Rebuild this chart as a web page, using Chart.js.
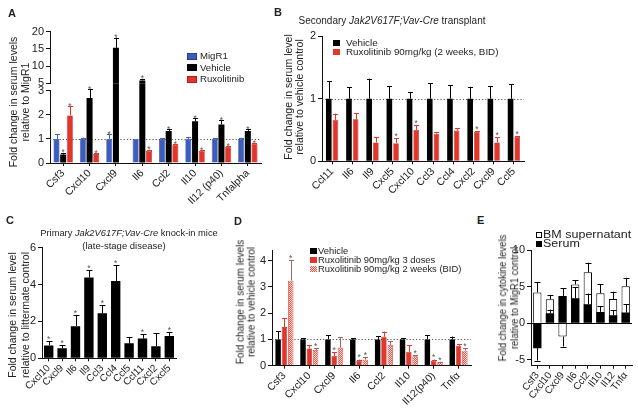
<!DOCTYPE html>
<html><head><meta charset="utf-8">
<script src="https://cdn.jsdelivr.net/npm/chart.js@4.4.1/dist/chart.umd.min.js"></script>
<style>
html,body{margin:0;padding:0;background:#fff;}
#fig{position:relative;width:638px;height:411px;overflow:hidden;font-family:'Liberation Sans',Arial,Helvetica,sans-serif;color:#222;}
canvas.cv{position:absolute;}
.t{position:absolute;white-space:nowrap;line-height:1;}
.bx{position:absolute;box-sizing:border-box;}
</style></head><body><div id="fig"></div>
<script>
// ---------------- DATA ----------------
// Panel A
const A_LABELS = ['Csf3','Cxcl10','Cxcl9','Il6','Ccl2','Il10','Il12 (p40)','Tnfalpha'];
const A_SERIES = ['MigR1','Vehicle','Ruxolitinib'];
const A_MIGR1 = [1,1,1,1,1,1,1,1];
const A_MIGR1_ERR = [0.2,0.05,0.2,0,0.03,0.07,0.03,0.05];
const A_MIGR1_STAR = [0,0,1,0,0,0,0,0];
const A_VEH = [0.35,2.7,15.3,5.8,1.33,1.73,1.6,1.33];
const A_VEH_ERR = [0.07,0.35,3.0,0.5,0.07,0.12,0.18,0.07];
const A_VEH_STAR = [1,1,1,1,1,1,1,1];
const A_RUX = [1.97,0.37,0.02,0.5,0.75,0.5,0.68,0.79];
const A_RUX_ERR = [0.38,0.03,0,0.05,0.03,0.02,0.02,0.03];
const A_RUX_STAR = [1,1,0,1,1,1,1,1];
const A_UPPER_TICKS = [5,10,15,20];
const A_LOWER_TICKS = [0,1,2,3];
// Panel B
const B_LABELS = ['Ccl11','Il6','Il9','Cxcl5','Cxcl10','Ccl3','Ccl4','Cxcl2','Cxcl9','Ccl5'];
const B_SERIES = ['Vehicle','Ruxolitinib 90mg/kg (2 weeks, BID)'];
const B_VEH = [1,1,1,1,1,1,1,1,1,1];
const B_VEH_ERR = [0.28,0.18,0.32,0.2,0.1,0.25,0.21,0.19,0.2,0.23];
const B_RUX = [0.66,0.67,0.30,0.29,0.50,0.44,0.49,0.47,0.30,0.39];
const B_RUX_ERR = [0.10,0.10,0.08,0.08,0.08,0.03,0.04,0.01,0.08,0.01];
const B_RUX_STAR = [0,0,0,1,1,0,0,1,1,1];
const B_TICKS = [0,1,2];
// Panel C
const C_LABELS = ['Cxcl10','Cxcl9','Il6','Il9','Ccl3','Ccl4','Ccl5','Ccl11','Cxcl2','Cxcl5'];
const C_VALUES = [0.70,0.54,1.74,4.39,2.44,4.20,0.81,1.07,0.65,1.21];
const C_ERR = [0.24,0.18,0.61,0.38,0.44,0.86,0.33,0.23,0.72,0.22];
const C_STAR = [1,1,1,1,1,1,0,1,0,1];
const C_TICKS = [0,2,4,6];
// Panel D
const D_LABELS = ['Csf3','Cxcl10','Cxcl9','Il6','Ccl2','Il10','Il12(p40)','Tnfα'];
const D_SERIES = ['Vehicle','Ruxolitinib 90mg/kg 3 doses','Ruxolitinib 90mg/kg 2 weeks (BID)'];
const D_VEH = [1,1,1,1,1,1,1,1];
const D_VEH_ERR = [0.32,0.04,0.17,0.04,0.13,0.04,0.17,0.11];
const D_RUX3 = [1.47,0.66,0.37,0.18,1.10,0.53,0.18,0.76];
const D_RUX3_ERR = [0.33,0.13,0.14,0.05,0.2,0.24,0.05,0.06];
const D_RUX3_STAR = [0,0,1,1,0,0,1,0];
const D_RUX2W = [3.24,0.60,0.69,0.23,0.79,0.36,0.13,0.57];
const D_RUX2W_ERR = [0.79,0.06,0.39,0.11,0.15,0.05,0.02,0.09];
const D_RUX2W_STAR = [1,1,0,1,0,1,1,1];
const D_TICKS = [0,1,2,3,4];
// Panel E
const E_LABELS = ['Csf3','Cxcl10','Cxcl9','Il6','Ccl2','Il10','Il12','Tnfα'];
const E_SERIES = ['BM supernatant','Serum'];
const E_BM = [4.2,3.27,-1.82,5.3,6.95,4.1,3.3,5.05];
const E_BM_ERR = [1.4,0.6,1.36,0.6,1.32,1.2,1.0,1.15];
const E_SERUM = [-3.4,1.36,3.73,3.4,2.6,1.55,1.1,1.45];
const E_SERUM_ERR = [1.7,0.5,1.07,1.5,1.45,0.75,0.7,1.15];
const E_TICKS = [-5,0,5,10];

// ---------------- STYLE ----------------
const BLUE = '#3d5cc0', RED = '#e5352b', BLACK = '#000000', STAR = '#555555';
const FONT = "'Liberation Sans', Arial, Helvetica, sans-serif";
Chart.defaults.font.family = FONT;
Chart.defaults.color = '#222';
const fig = document.getElementById('fig');

function makePattern() {
  const p = document.createElement('canvas'); p.width = 2; p.height = 2;
  const g = p.getContext('2d');
  g.fillStyle = '#fde2de'; g.fillRect(0,0,2,2);
  g.fillStyle = '#ee5247'; g.fillRect(0,0,1,1); g.fillRect(1,1,1,1);
  return g.createPattern(p, 'repeat');
}

const decor = {
  id: 'decor',
  beforeDatasetsDraw(chart, args, o) {
    if (o.ref === undefined || o.ref === null) return;
    const {ctx, chartArea: a} = chart;
    const y = Math.round(chart.scales.y.getPixelForValue(o.ref)) + 0.5;
    ctx.save(); ctx.strokeStyle = '#555'; ctx.lineWidth = 1; ctx.setLineDash([1.2, 2]);
    ctx.beginPath(); ctx.moveTo(a.left, y); ctx.lineTo(a.right, y); ctx.stroke(); ctx.restore();
  },
  afterDatasetsDraw(chart, args, o) {
    const {ctx, chartArea: a} = chart; const ys = chart.scales.y;
    const ct = o.clipTop || 0, cb = o.clipBottom || 0;
    ctx.save();
    ctx.beginPath(); ctx.rect(a.left - 5, a.top - ct, a.right - a.left + 10, a.bottom - a.top + ct + cb); ctx.clip();
    chart.data.datasets.forEach((ds, i) => {
      const meta = chart.getDatasetMeta(i);
      meta.data.forEach((bar, j) => {
        const v = ds.data[j]; const e = ds.errors ? ds.errors[j] : 0;
        const s = v < 0 ? -1 : 1;
        const yv = ys.getPixelForValue(v), ye = ys.getPixelForValue(v + s * e);
        const x = Math.round(bar.x) + 0.5, cw = o.cap || 2.5;
        ctx.strokeStyle = ds.errColor || '#000'; ctx.lineWidth = 1;
        if (e > 0) {
          ctx.beginPath(); ctx.moveTo(x, yv); ctx.lineTo(x, ye);
          const yc = Math.round(ye) + 0.5;
          ctx.moveTo(x - cw, yc); ctx.lineTo(x + cw, yc); ctx.stroke();
        }
        if (ds.stars && ds.stars[j]) {
          ctx.fillStyle = STAR; ctx.font = (o.starSize || 8.5) + 'px ' + FONT;
          ctx.textAlign = 'center'; ctx.textBaseline = 'alphabetic';
          ctx.fillText('*', bar.x, ye + (o.starOff === undefined ? 0.8 : o.starOff));
        }
      });
    });
    if (o.zero) {
      const y0 = Math.round(ys.getPixelForValue(0)) + 0.5;
      ctx.strokeStyle = '#000'; ctx.lineWidth = 1;
      ctx.beginPath(); ctx.moveTo(a.left, y0); ctx.lineTo(a.right, y0); ctx.stroke();
    }
    ctx.restore();
  }
};
Chart.register(decor);

function baseOptions(yMin, yMax, ticks, xFont, yFont, rot, decorOpts) {
  return {
    responsive: false, animation: false, devicePixelRatio: 1,
    plugins: { legend: { display: false }, tooltip: { enabled: false }, title: { display: false }, decor: decorOpts || {} },
    scales: {
      x: {
        type: 'category', offset: true,
        grid: { display: true, drawOnChartArea: false, offset: false, tickLength: 3, color: '#111' },
        border: { display: true, color: '#111', width: 1 },
        ticks: { autoSkip: false, minRotation: rot, maxRotation: rot, padding: 1, color: '#222', font: { size: xFont } }
      },
      y: {
        min: yMin, max: yMax,
        afterBuildTicks: s => { s.ticks = ticks.map(v => ({ value: v })); },
        grid: { display: true, drawOnChartArea: false, tickLength: 4, color: '#111' },
        border: { display: true, color: '#111', width: 1 },
        ticks: { padding: 2, color: '#222', font: { size: yFont } }
      }
    }
  };
}

function makeChart(box, area, cfg) {
  const c = document.createElement('canvas');
  c.width = box.w; c.height = box.h; c.className = 'cv';
  c.style.left = box.x + 'px'; c.style.top = box.y + 'px';
  c.style.width = box.w + 'px'; c.style.height = box.h + 'px';
  fig.appendChild(c);
  const o = cfg.options;
  o.layout = { padding: { left: 0, top: area.t - box.y, right: box.x + box.w - area.r, bottom: 0 } };
  o.scales.y.afterFit = s => { s.width = area.l - box.x; };
  if (o.scales.x.display === false) o.layout.padding.bottom = box.y + box.h - area.b;
  else o.scales.x.afterFit = s => { s.height = box.y + box.h - area.b; };
  return new Chart(c, cfg);
}

// ---------------- PANEL A (broken axis: upper + lower) ----------------
function aDatasets(clip) {
  return [
    { label: A_SERIES[0], data: A_MIGR1, errors: A_MIGR1_ERR, stars: A_MIGR1_STAR, backgroundColor: BLUE, borderColor: '#2a3f8a', borderWidth: 0.6, errColor: BLUE, clip: clip, categoryPercentage: 0.76, barPercentage: 0.9 },
    { label: A_SERIES[1], data: A_VEH, errors: A_VEH_ERR, stars: A_VEH_STAR, backgroundColor: BLACK, errColor: BLACK, clip: clip, categoryPercentage: 0.76, barPercentage: 0.9 },
    { label: A_SERIES[2], data: A_RUX, errors: A_RUX_ERR, stars: A_RUX_STAR, backgroundColor: RED, borderColor: '#a8221a', borderWidth: 0.6, errColor: RED, clip: clip, categoryPercentage: 0.76, barPercentage: 0.9 }
  ];
}
{
  const o = baseOptions(5, 20, A_UPPER_TICKS, 10.5, 11, 45, { clipTop: 4, starOff: 2.5 });
  o.scales.x.display = false;
  makeChart({ x: 0, y: 18, w: 275, h: 76 }, { l: 50, t: 31.7, r: 261, b: 83.3 },
    { type: 'bar', data: { labels: A_LABELS, datasets: aDatasets(0) }, options: o });
}
{
  const o = baseOptions(0, 3, A_LOWER_TICKS, 10.5, 11, 45, { ref: 1, clipTop: 7.4, starOff: 2.5 });
  makeChart({ x: 0, y: 78, w: 275, h: 130 }, { l: 50, t: 90.7, r: 261, b: 163 },
    { type: 'bar', data: { labels: A_LABELS, datasets: aDatasets({ left: 0, top: 7.4, right: 0, bottom: 0 }) }, options: o });
}

// ---------------- PANEL B ----------------
{
  const o = baseOptions(0, 2, B_TICKS, 10.5, 11, 45, { ref: 1 });
  makeChart({ x: 300, y: 25, w: 338, h: 175 }, { l: 322, t: 36, r: 524, b: 161.3 }, {
    type: 'bar',
    data: { labels: B_LABELS, datasets: [
      { label: B_SERIES[0], data: B_VEH, errors: B_VEH_ERR, backgroundColor: BLACK, errColor: BLACK, categoryPercentage: 0.66, barPercentage: 0.84 },
      { label: B_SERIES[1], data: B_RUX, errors: B_RUX_ERR, stars: B_RUX_STAR, backgroundColor: RED, borderColor: '#a8221a', borderWidth: 0.6, errColor: RED, categoryPercentage: 0.66, barPercentage: 0.84 }
    ] },
    options: o
  });
}

// ---------------- PANEL C ----------------
{
  const o = baseOptions(0, 6, C_TICKS, 10, 11, 45, { cap: 3 });
  makeChart({ x: 0, y: 238, w: 190, h: 173 }, { l: 42, t: 247.7, r: 176, b: 358.3 }, {
    type: 'bar',
    data: { labels: C_LABELS, datasets: [
      { label: 'C', data: C_VALUES, errors: C_ERR, stars: C_STAR, backgroundColor: BLACK, errColor: BLACK, categoryPercentage: 0.7, barPercentage: 1 }
    ] },
    options: o
  });
}

// ---------------- PANEL D ----------------
{
  const o = baseOptions(0, 4.4, D_TICKS, 10.5, 11, 45, { ref: 1 });
  makeChart({ x: 255, y: 240, w: 225, h: 171 }, { l: 272, t: 250.2, r: 471, b: 365.7 }, {
    type: 'bar',
    data: { labels: D_LABELS, datasets: [
      { label: D_SERIES[0], data: D_VEH, errors: D_VEH_ERR, backgroundColor: BLACK, errColor: BLACK, categoryPercentage: 0.76, barPercentage: 0.86 },
      { label: D_SERIES[1], data: D_RUX3, errors: D_RUX3_ERR, stars: D_RUX3_STAR, backgroundColor: RED, borderColor: '#a8221a', borderWidth: 0.6, errColor: RED, categoryPercentage: 0.76, barPercentage: 0.86 },
      { label: D_SERIES[2], data: D_RUX2W, errors: D_RUX2W_ERR, stars: D_RUX2W_STAR, backgroundColor: makePattern(), borderColor: '#e5453a', borderWidth: 0.8, errColor: '#9a6a6a', categoryPercentage: 0.76, barPercentage: 0.86 }
    ] },
    options: o
  });
}

// ---------------- PANEL E ----------------
{
  const o = baseOptions(-5.8, 10, E_TICKS, 10, 11, 52, { zero: true, cap: 3 });
  makeChart({ x: 505, y: 240, w: 133, h: 171 }, { l: 531, t: 250, r: 632, b: 365.7 }, {
    type: 'bar',
    data: { labels: E_LABELS, datasets: [
      { label: E_SERIES[0], data: E_BM, errors: E_BM_ERR, backgroundColor: '#ffffff', borderColor: '#000', borderWidth: 1, errColor: '#000', grouped: false, order: 2, categoryPercentage: 0.66, barPercentage: 1 },
      { label: E_SERIES[1], data: E_SERUM, errors: E_SERUM_ERR, backgroundColor: BLACK, errColor: '#000', grouped: false, order: 1, categoryPercentage: 0.66, barPercentage: 1 }
    ] },
    options: o
  });
}

// ---------------- TEXT (titles, legends, panel letters) ----------------
function T(html, x, y, size, opt) {
  opt = opt || {};
  const d = document.createElement('div');
  d.className = 't'; d.innerHTML = html;
  d.style.left = x + 'px'; d.style.top = y + 'px'; d.style.fontSize = size + 'px';
  if (opt.bold) d.style.fontWeight = 'bold';
  if (opt.lh) d.style.lineHeight = opt.lh + 'px';
  let tr = 'translate(0,-50%)';
  if (opt.sx) { d.style.transformOrigin = '0 50%'; tr += ' scaleX(' + opt.sx + ')'; }
  if (opt.center) { tr = 'translate(-50%,-50%)'; d.style.textAlign = 'center'; }
  if (opt.rot) { tr = 'translate(-50%,-50%) rotate(-90deg) scaleY(' + (opt.sy || 1.12) + ')'; d.style.textAlign = 'center'; }
  d.style.transform = tr;
  fig.appendChild(d);
}
function B(x, yc, w, h, bg, border) {
  const d = document.createElement('div');
  d.className = 'bx';
  d.style.left = x + 'px'; d.style.top = (yc - h / 2) + 'px';
  d.style.width = w + 'px'; d.style.height = h + 'px';
  d.style.background = bg;
  if (border) d.style.border = '1px solid ' + border;
  fig.appendChild(d);
}

// panel letters
T('A', 8, 13, 11, { bold: true });
T('B', 274, 12, 11, { bold: true });
T('C', 6, 220, 11, { bold: true });
T('D', 234, 221, 11, { bold: true });
T('E', 477, 220, 11, { bold: true });

// y-axis titles
T('Fold change in serum levels<br>relative to MigR1', 18.5, 102, 10.5, { rot: true, lh: 11 });
T('Fold change in serum level<br>relative to vehicle control', 293, 97, 10.5, { rot: true, lh: 10 });
T('Fold change in serum level<br>relative to littermate control', 17.5, 314.7, 10.5, { rot: true, lh: 10.5 });
T('Fold change in serum levels<br>relative to vehicle control', 246, 301.5, 10, { rot: true, lh: 10 });
T('Fold change in cytokine levels<br>relative to MigR1 control', 508.5, 297.5, 9.5, { rot: true, lh: 10.5 });

// panel titles
T('Secondary <i>Jak2V617F;Vav-Cre</i> transplant', 392, 20.5, 10, { center: true });
T('Primary <i>Jak2V617F;Vav-Cre</i> knock-in mice', 129, 234, 9.3, { center: true });
T('(late-stage disease)', 124, 246, 9.5, { center: true });

// legends
B(187, 56, 10, 7, BLUE, '#2a3f8a'); T(A_SERIES[0], 200, 56, 9.6);
B(187, 67.5, 10, 7, BLACK); T(A_SERIES[1], 200, 67.5, 9.6);
B(187, 79, 10, 7, RED, '#a8221a'); T(A_SERIES[2], 200, 79, 9.6);

B(333, 42.7, 7, 6, BLACK); T(B_SERIES[0], 346, 42.7, 9.8);
B(333, 51.7, 7, 6, RED); T(B_SERIES[1], 346, 51.7, 9.8);

B(310, 251, 7, 6, BLACK); T(D_SERIES[0], 318, 251, 9.4);
B(310, 260, 7, 6, RED); T(D_SERIES[1], 318, 260, 9.4);
B(310, 269, 7, 6, 'repeating-conic-gradient(#ee5247 0 25%, #fde2de 0 50%) 0 0/2px 2px'); T(D_SERIES[2], 318, 269, 9.4);

B(536, 235, 6, 6, '#fff', '#000'); T(E_SERIES[0], 543, 235, 10, { sx: 1.25 });
B(536, 243.5, 6, 6, BLACK); T(E_SERIES[1], 543, 243.5, 10, { sx: 1.25 });
</script></body></html>
